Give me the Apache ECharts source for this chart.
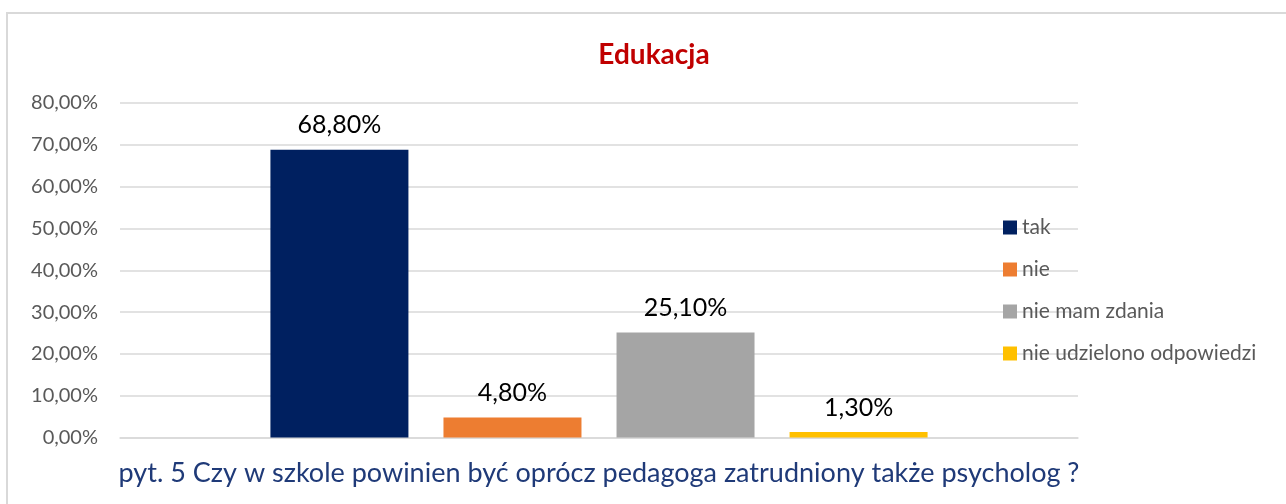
<!DOCTYPE html>
<html><head><meta charset="utf-8">
<script src="https://cdn.jsdelivr.net/npm/echarts@6/dist/echarts.min.js"></script>
<style>html,body{margin:0;padding:0;background:#fff}#c{width:1286px;height:504px}</style>
</head><body><div id="c"></div>
<script>
const categories = [''];
const seriesNames = ['tak', 'nie', 'nie mam zdania', 'nie udzielono odpowiedzi'];
const seriesValues = [68.8, 4.8, 25.1, 1.3];
const seriesColors = ['#002060', '#ED7D31', '#A5A5A5', '#FFC000'];
const yTicks = [0, 10, 20, 30, 40, 50, 60, 70, 80];
const titleText = 'Edukacja';
const captionText = 'pyt. 5 Czy w szkole powinien być oprócz pedagoga zatrudniony także psycholog ?';

const fmt = v => v.toFixed(2).replace('.', ',') + '%';
const FONT = 'Lato';
const chart = echarts.init(document.getElementById('c'));
chart.setOption({
  animation: false,
  textStyle: { fontFamily: FONT },
  title: { text: titleText, left: 649, textAlign: 'center', top: 36,
    textStyle: { color: '#C00000', fontSize: 28, fontWeight: 'bold', fontFamily: FONT } },
  graphic: [{ type: 'rect', shape: { x: 7, y: 13, width: 1400, height: 600 },
    style: { fill: 'none', stroke: '#D9D9D9', lineWidth: 2 }, silent: true }],
  legend: { orient: 'vertical', left: 998, top: 212, itemWidth: 14, itemHeight: 14, itemGap: 21,
    icon: 'rect', textStyle: { color: '#595959', fontSize: 21, fontFamily: FONT },
    data: seriesNames },
  grid: { left: 120, right: 1286 - 1078, top: 103, bottom: 504 - 437.5 },
  xAxis: { type: 'category', data: categories, axisTick: { show: false }, axisLabel: { show: false },
    axisLine: { lineStyle: { color: '#D9D9D9', width: 1.5 } },
    name: captionText, nameLocation: 'middle', nameGap: 22,
    nameTextStyle: { color: '#1F3A78', fontSize: 27, fontFamily: FONT } },
  yAxis: { type: 'value', min: 0, max: 80, interval: 10,
    axisLabel: { formatter: v => fmt(v), color: '#595959', fontSize: 20, margin: 22, fontFamily: FONT },
    splitLine: { lineStyle: { color: '#D9D9D9', width: 1.5 } },
    axisLine: { show: false }, axisTick: { show: false } },
  series: seriesNames.map((n, i) => ({
    name: n, type: 'bar', barWidth: 138, barGap: '25.4%',
    itemStyle: { color: seriesColors[i] },
    label: { show: true, position: 'top', distance: 12, color: '#000', fontSize: 25, fontFamily: FONT,
      formatter: p => fmt(p.value) },
    data: [seriesValues[i]]
  }))
});
</script></body></html>
